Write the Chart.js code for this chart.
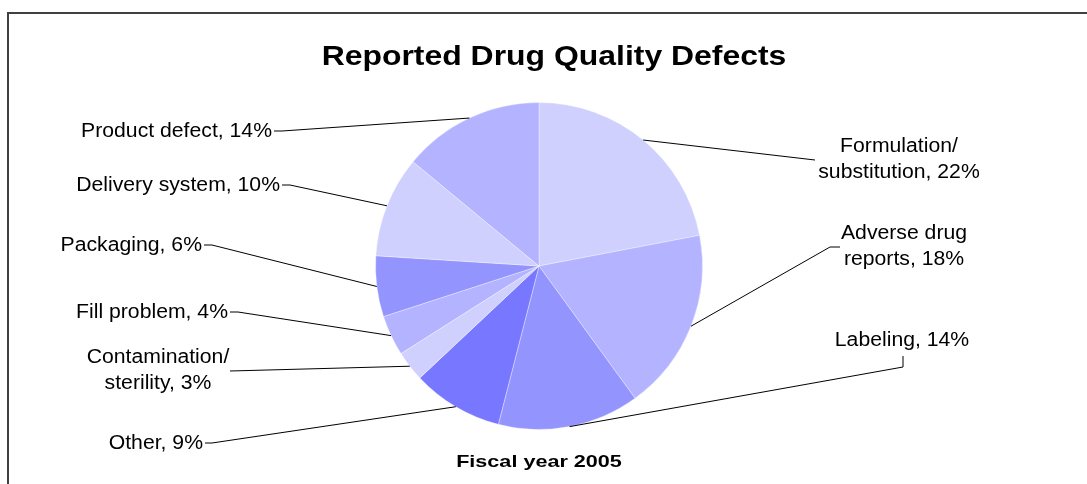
<!DOCTYPE html>
<html>
<head>
<meta charset="utf-8">
<script src="https://cdn.jsdelivr.net/npm/chart.js@4/dist/chart.umd.min.js"></script>
<style>
html,body{margin:0;padding:0;background:#fff;}
#wrap{position:relative;width:1087px;height:484px;}
</style>
</head>
<body>
<div id="wrap"><canvas id="c" width="1087" height="484"></canvas></div>
<script>
// ---- data ----
const title = 'Reported Drug Quality Defects';
const subtitle = 'Fiscal year 2005';
const categories = ['Formulation/ substitution', 'Adverse drug reports', 'Labeling', 'Other',
  'Contamination/ sterility', 'Fill problem', 'Packaging', 'Delivery system', 'Product defect'];
const shares = [22, 18, 14, 9, 3, 4, 6, 10, 14];
const labelTexts = [
  ['Formulation/', 'substitution, 22%'],
  ['Adverse drug', 'reports, 18%'],
  ['Labeling, 14%'],
  ['Other, 9%'],
  ['Contamination/', 'sterility, 3%'],
  ['Fill problem, 4%'],
  ['Packaging, 6%'],
  ['Delivery system, 10%'],
  ['Product defect, 14%']
];

// ---- styles / layout ----
const sliceColors = ['#D0D0FF', '#B3B3FF', '#9494FF', '#7777FF', '#D0D0FF', '#B3B3FF', '#9494FF', '#D0D0FF', '#B3B3FF'];
const FONT = '"Liberation Sans", Arial, Helvetica, sans-serif';
// label placement: text anchor x, first-line y, alignment, leader path points (text side first)
const labelLayout = [
  {x: 899, y: 146, align: 'center', path: [[815, 160]]},
  {x: 904, y: 233, align: 'center', path: [[840, 247], [830, 247]]},
  {x: 902, y: 340, align: 'center', path: [[903, 356], [903, 367]]},
  {x: 203, y: 443, align: 'right', path: [[205, 443], [212, 443]]},
  {x: 158, y: 357, align: 'center', path: [[230, 371]]},
  {x: 228, y: 312, align: 'right', path: [[230, 312], [238, 312]]},
  {x: 202, y: 245, align: 'right', path: [[204, 245], [212, 245]]},
  {x: 280, y: 185, align: 'right', path: [[282, 185], [290, 185]]},
  {x: 272, y: 131, align: 'right', path: [[274, 131], [282, 131]]}
];
const lineHeight = 26;

function drawText(ctx, text, x, y, align, font, sx) {
  ctx.save();
  ctx.translate(x, y);
  ctx.scale(sx, 1);
  ctx.font = font;
  ctx.textAlign = align;
  ctx.textBaseline = 'middle';
  ctx.fillStyle = '#000';
  ctx.fillText(text, 0, 0);
  ctx.restore();
}

const decor = {
  id: 'decor',
  afterDraw(chart) {
    const ctx = chart.ctx;
    ctx.save();
    // frame
    ctx.strokeStyle = '#404040';
    ctx.lineWidth = 2;
    ctx.beginPath();
    ctx.moveTo(8, 484);
    ctx.lineTo(8, 13);
    ctx.lineTo(1087, 13);
    ctx.stroke();
    // title and subtitle
    drawText(ctx, title, 554, 57, 'center', 'bold 28px ' + FONT, 1.14);
    drawText(ctx, subtitle, 539, 462, 'center', 'bold 17px ' + FONT, 1.27);
    // labels + leader lines
    const meta = chart.getDatasetMeta(0);
    meta.data.forEach((arc, i) => {
      const L = labelLayout[i];
      const mid = (arc.startAngle + arc.endAngle) / 2;
      const ex = arc.x + Math.cos(mid) * arc.outerRadius;
      const ey = arc.y + Math.sin(mid) * arc.outerRadius;
      ctx.strokeStyle = '#000';
      ctx.lineWidth = 1;
      ctx.beginPath();
      ctx.moveTo(L.path[0][0], L.path[0][1]);
      for (let k = 1; k < L.path.length; k++) ctx.lineTo(L.path[k][0], L.path[k][1]);
      ctx.lineTo(ex, ey);
      ctx.stroke();
      labelTexts[i].forEach((t, j) =>
        drawText(ctx, t, L.x, L.y + j * lineHeight, L.align, '20px ' + FONT, 1.06));
    });
    ctx.restore();
  }
};

new Chart(document.getElementById('c'), {
  type: 'pie',
  data: {
    labels: categories,
    datasets: [{
      data: shares,
      backgroundColor: sliceColors,
      borderColor: 'rgba(255,255,255,0.35)',
      borderWidth: 1
    }]
  },
  options: {
    responsive: false,
    animation: false,
    layout: {padding: {left: 375, right: 384, top: 102, bottom: 54}},
    plugins: {legend: {display: false}, tooltip: {enabled: false}, title: {display: false}}
  },
  plugins: [decor]
});
</script>
</body>
</html>
